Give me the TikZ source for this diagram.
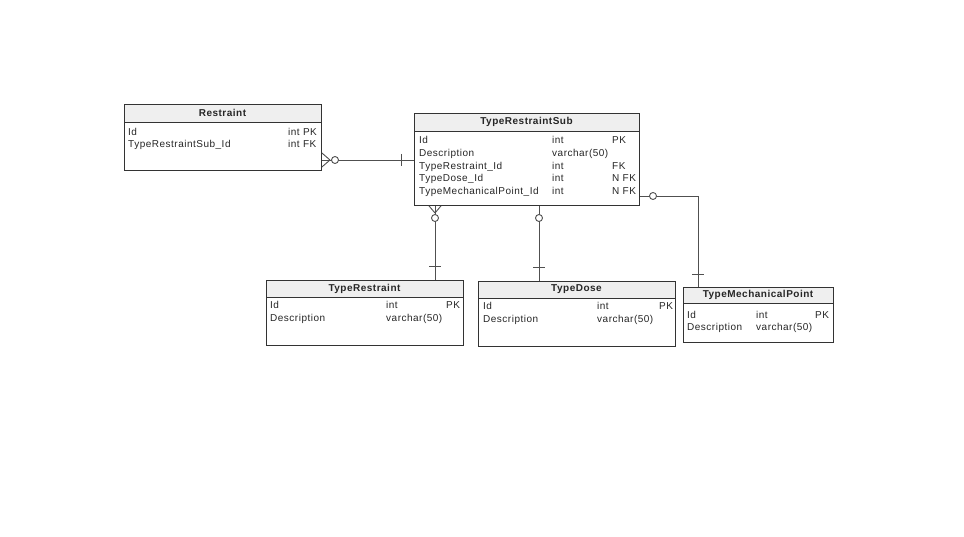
\documentclass[tikz,border=0pt]{standalone}
\usepackage{fontspec}
\setmainfont{Liberation Sans}[LetterSpace=5]
\begin{document}
\begin{tikzpicture}[x=1pt,y=-1pt,
  tbl/.style={draw=boxc, line width=0.9pt, fill=white, inner sep=0pt, anchor=north west},
  hdr/.style={fill=hdrc},
  ttl/.style={font=\fontsize{10}{12}\selectfont\bfseries, text=txtc, inner sep=0pt},
  cell/.style={font=\fontsize{10}{12}\selectfont, text=txtc, inner sep=0pt, anchor=base west},
  conn/.style={draw=linec, line width=0.9pt},
  ring/.style={draw=linec, line width=0.9pt, fill=white, circle, minimum size=7pt, inner sep=0pt}
]
\definecolor{boxc}{HTML}{333333}
\definecolor{linec}{HTML}{505050}
\definecolor{hdrc}{HTML}{EFEFEF}
\definecolor{txtc}{HTML}{262626}
\useasboundingbox[fill=white] (0,0) rectangle (964,537);

\newcommand{\ertable}[7]{% name, x, y, w, h, hh, title
  \node[tbl, minimum width=#4pt, minimum height=#5pt] (#1) at (#2,#3) {};
  \fill[hdr] (#1.north west) rectangle ++(#4,#6);
  \draw[boxc, line width=0.9pt] (#2,#3+#6) -- (#2+#4,#3+#6);
  \draw[boxc, line width=0.9pt] (#1.north west) rectangle (#1.south east);
  \node[ttl] (#1-t) at (#2+#4/2,#3+#6/2) {#7};
}

\ertable{r}{124}{104}{197}{66}{18}{Restraint}
\node[cell] (r1a) at (128,135.5) {Id};
\node[cell] (r1b) at (288,135.5) {int PK};
\node[cell] (r2a) at (128,148) {TypeRestraintSub\_Id};
\node[cell] (r2b) at (288,148) {int FK};

\ertable{trs}{414}{113}{225}{92}{18}{TypeRestraintSub}
\node[cell] (s1a) at (419,143.8) {Id};
\node[cell] (s1b) at (552,143.8) {int};
\node[cell] (s1c) at (612,143.8) {PK};
\node[cell] (s2a) at (419,156.5) {Description};
\node[cell] (s2b) at (552,156.5) {varchar(50)};
\node[cell] (s3a) at (419,169.2) {TypeRestraint\_Id};
\node[cell] (s3b) at (552,169.2) {int};
\node[cell] (s3c) at (612,169.2) {FK};
\node[cell] (s4a) at (419,181.9) {TypeDose\_Id};
\node[cell] (s4b) at (552,181.9) {int};
\node[cell] (s4c) at (612,181.9) {N FK};
\node[cell] (s5a) at (419,194.6) {TypeMechanicalPoint\_Id};
\node[cell] (s5b) at (552,194.6) {int};
\node[cell] (s5c) at (612,194.6) {N FK};

\ertable{tr}{266}{280}{197}{65}{17}{TypeRestraint}
\node[cell] (a1a) at (270,308.5) {Id};
\node[cell] (a1b) at (386,308.5) {int};
\node[cell] (a1c) at (446,308.5) {PK};
\node[cell] (a2a) at (270,321.5) {Description};
\node[cell] (a2b) at (386,321.5) {varchar(50)};

\ertable{td}{478}{281}{197}{65}{17}{TypeDose}
\node[cell] (b1a) at (483,310) {Id};
\node[cell] (b1b) at (597,310) {int};
\node[cell] (b1c) at (659,310) {PK};
\node[cell] (b2a) at (483,323) {Description};
\node[cell] (b2b) at (597,323) {varchar(50)};

\ertable{tmp}{683}{287}{150}{55}{16.5}{TypeMechanicalPoint}
\node[cell] (c1a) at (687,318.5) {Id};
\node[cell] (c1b) at (756,318.5) {int};
\node[cell] (c1c) at (815,318.5) {PK};
\node[cell] (c2a) at (687,330.5) {Description};
\node[cell] (c2b) at (756,330.5) {varchar(50)};

% connector Restraint -- TypeRestraintSub
\coordinate (k1) at (330,160);
\draw[conn] (r.east |- 0,160) -- (trs.west |- 0,160);
\draw[conn] (r.east |- 0,153) -- (k1) (r.east |- 0,167) -- (k1);
\node[ring] (o1) at (335,160) {};
\draw[conn] (401,154) -- (401,166);

% connector TypeRestraintSub -- TypeRestraint
\coordinate (k2) at (435,213);
\draw[conn] (trs.south -| 435,0) -- (tr.north -| 435,0);
\draw[conn] (trs.south -| 429,0) -- (k2) (trs.south -| 441,0) -- (k2);
\node[ring] (o2) at (435,218) {};
\draw[conn] (429,266) -- (441,266);

% connector TypeRestraintSub -- TypeDose
\draw[conn] (trs.south -| 539,0) -- (td.north -| 539,0);
\node[ring] (o3) at (539,218) {};
\draw[conn] (533,267) -- (545,267);

% connector TypeRestraintSub -- TypeMechanicalPoint
\coordinate (bend) at (698,196);
\draw[conn] (trs.east |- 0,196) -- (bend) -- (tmp.north -| bend);
\node[ring] (o4) at (653,196) {};
\draw[conn] (692,274) -- (704,274);
\end{tikzpicture}
\end{document}
